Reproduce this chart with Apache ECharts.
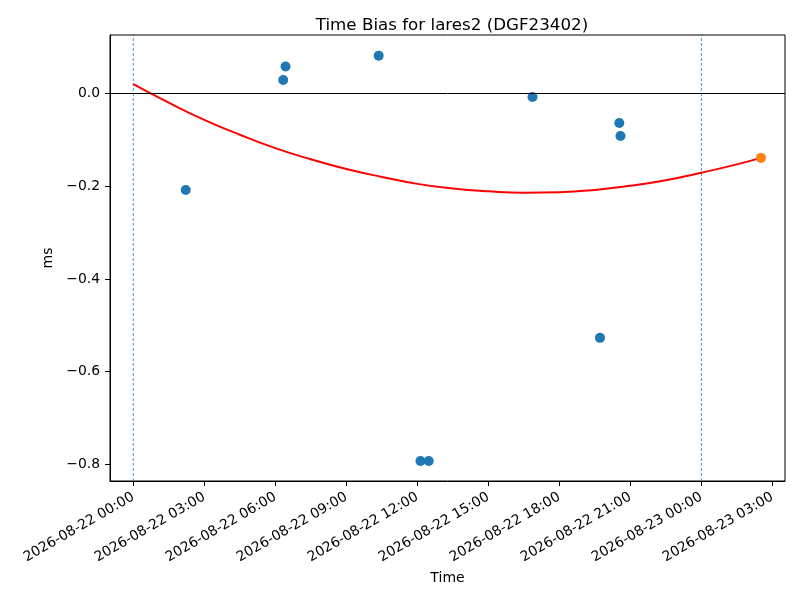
<!DOCTYPE html>
<html>
<head>
<meta charset="utf-8">
<script src="https://cdn.jsdelivr.net/npm/echarts@6/dist/echarts.min.js"></script>
<style>
  html, body { margin: 0; padding: 0; background: #fff; }
  #chart { width: 800px; height: 600px; }
</style>
</head>
<body>
<div id="chart"></div>
<script>
// 观测点 (blue)
const obsTimes = [
  '2026-08-22 02:13', '2026-08-22 06:20', '2026-08-22 06:26', '2026-08-22 10:22',
  '2026-08-22 12:08', '2026-08-22 12:29', '2026-08-22 16:52', '2026-08-22 19:43',
  '2026-08-22 20:32', '2026-08-22 20:35'
]
const obsValues = [-0.208, 0.029, 0.058, 0.0815, -0.7925, -0.7925, -0.0075, -0.527, -0.0636, -0.0917]

// 预测点 (orange)
const predTimes = ['2026-08-23 02:31']
const predValues = [-0.139]

// 拟合曲线 (red)
const fitTimes = [
  '2026-08-22 00:00', '2026-08-22 01:30', '2026-08-22 03:00', '2026-08-22 04:30',
  '2026-08-22 06:00', '2026-08-22 07:30', '2026-08-22 09:00', '2026-08-22 10:30',
  '2026-08-22 12:00', '2026-08-22 13:30', '2026-08-22 15:00', '2026-08-22 16:30',
  '2026-08-22 18:00', '2026-08-22 19:30', '2026-08-22 21:00', '2026-08-22 22:30',
  '2026-08-23 00:00', '2026-08-23 01:30', '2026-08-23 02:31'
]
const fitValues = [
  0.020, -0.020, -0.057, -0.089,
  -0.118, -0.142, -0.163, -0.180,
  -0.195, -0.205, -0.211, -0.214,
  -0.213, -0.208, -0.199, -0.187,
  -0.171, -0.153, -0.139
]

// 日界线
const dayLines = ['2026-08-22 00:00', '2026-08-23 00:00']

// 刻度
const xTicks = [
  '2026-08-22 00:00', '2026-08-22 03:00', '2026-08-22 06:00', '2026-08-22 09:00',
  '2026-08-22 12:00', '2026-08-22 15:00', '2026-08-22 18:00', '2026-08-22 21:00',
  '2026-08-23 00:00', '2026-08-23 03:00'
]
const yTicks = [-0.8, -0.6, -0.4, -0.2, 0.0]

const xMin = '2026-08-21 23:01'
const xMax = '2026-08-23 03:32'
const yMin = -0.8356
const yMax = 0.126

const FONT = 'DejaVu Sans'

// 'YYYY-MM-DD HH:mm' -> 本地时间戳
function toTs(s) {
  const [d, t] = s.split(' ')
  const [y, mo, da] = d.split('-').map(Number)
  const [h, mi] = t.split(':').map(Number)
  return new Date(y, mo - 1, da, h, mi).getTime()
}
function fmtTs(v) {
  const d = new Date(v)
  const p = n => String(n).padStart(2, '0')
  return `${d.getFullYear()}-${p(d.getMonth() + 1)}-${p(d.getDate())} ${p(d.getHours())}:${p(d.getMinutes())}`
}
const zip = (a, b) => a.map((t, i) => [toTs(t), b[i]])

// 竖直虚线: 用两点折线画, 跨满整个 y 范围
const dayLineSeries = dayLines.map(d => ({
  type: 'line',
  data: [[toTs(d), yMin], [toTs(d), yMax]],
  showSymbol: false,
  silent: true,
  z: 1,
  lineStyle: { color: '#1f77b4', width: 0.8, type: [3, 2] }
}))

const chart = echarts.init(document.getElementById('chart'))

chart.setOption({
  animation: false,
  backgroundColor: '#fff',
  textStyle: { fontFamily: FONT },
  title: {
    text: 'Time Bias for lares2 (DGF23402)',
    left: 447,
    top: 12,
    textAlign: 'center',
    textStyle: { fontFamily: FONT, fontSize: 16.7, fontWeight: 'normal', color: '#000' }
  },
  grid: {
    left: 110, right: 15, top: 35, bottom: 119,
    show: true, borderColor: '#000', borderWidth: 1, backgroundColor: 'transparent'
  },
  xAxis: {
    type: 'value',
    min: toTs(xMin),
    max: toTs(xMax),
    name: 'Time',
    nameLocation: 'middle',
    nameGap: 89,
    nameTextStyle: { fontFamily: FONT, fontSize: 14, color: '#000' },
    axisLine: { onZero: false, lineStyle: { color: '#000', width: 1 } },
    axisTick: {
      show: true, length: 5, inside: false,
      customValues: xTicks.map(toTs),
      lineStyle: { color: '#000' }
    },
    splitLine: { show: false },
    axisLabel: {
      rotate: 30,
      fontFamily: FONT,
      fontSize: 13.9,
      color: '#000',
      margin: 15,
      hideOverlap: false,
      customValues: xTicks.map(toTs),
      formatter: v => fmtTs(v)
    }
  },
  yAxis: {
    type: 'value',
    min: yMin,
    max: yMax,
    name: 'ms',
    nameLocation: 'middle',
    nameGap: 50,
    nameRotate: 90,
    nameTextStyle: { fontFamily: FONT, fontSize: 14, color: '#000' },
    axisLine: { show: true, onZero: false, lineStyle: { color: '#000', width: 1 } },
    axisTick: { show: true, length: 5, inside: false, customValues: yTicks, lineStyle: { color: '#000' } },
    splitLine: { show: false },
    axisLabel: {
      fontFamily: FONT,
      fontSize: 13.9,
      color: '#000',
      margin: 10,
      customValues: yTicks,
      formatter: v => (v < -1e-9 ? '\u2212' : '') + Math.abs(v).toFixed(1)
    }
  },
  series: [
    ...dayLineSeries,
    {
      type: 'line',
      data: zip(fitTimes, fitValues),
      smooth: true,
      showSymbol: false,
      z: 3,
      lineStyle: { color: '#ff0000', width: 2 },
      markLine: {
        silent: true,
        symbol: 'none',
        label: { show: false },
        lineStyle: { color: '#000', width: 1, type: 'solid', opacity: 1 },
        data: [{ yAxis: 0 }]
      }
    },
    {
      type: 'scatter',
      data: zip(obsTimes, obsValues),
      symbolSize: 10,
      z: 4,
      itemStyle: { color: '#1f77b4', opacity: 1 }
    },
    {
      type: 'scatter',
      data: zip(predTimes, predValues),
      symbolSize: 10,
      z: 4,
      itemStyle: { color: '#ff7f0e', opacity: 1 }
    }
  ]
})
</script>
</body>
</html>
